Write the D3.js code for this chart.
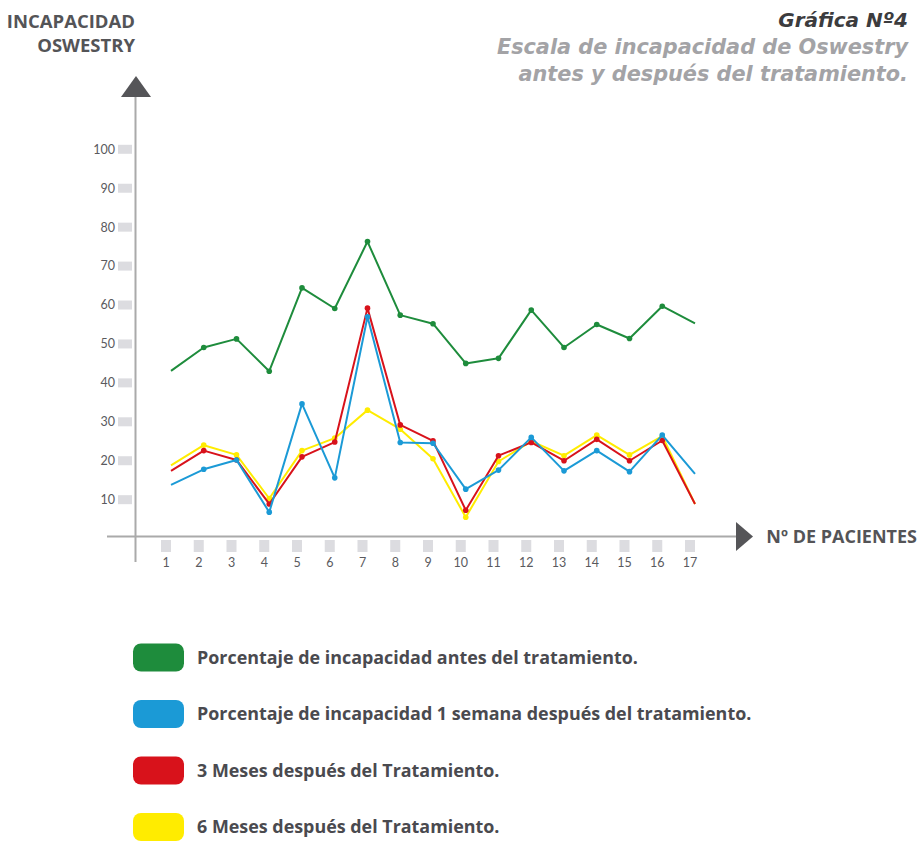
<!DOCTYPE html>
<html>
<head>
<meta charset="utf-8">
<script src="https://cdn.jsdelivr.net/npm/d3@7"></script>
<style>
  body { margin: 0; background: #fff; }
  text { font-family: "Open Sans", Lato, sans-serif; }
</style>
</head>
<body>
<div id="chart"></div>
<script>
var pacientes = [1, 2, 3, 4, 5, 6, 7, 8, 9, 10, 11, 12, 13, 14, 15, 16, 17]
var yTicks = [10, 20, 30, 40, 50, 60, 70, 80, 90, 100]

// valores
var antes = [43.1, 49.1, 51.3, 43.0, 64.4, 59.1, 76.3, 57.4, 55.2, 45.0, 46.3, 58.7, 49.1, 55.0, 51.4, 59.7, 55.3]
var unaSemana = [13.8, 17.8, 20.2, 6.8, 34.6, 15.6, 57.0, 24.7, 24.5, 12.7, 17.6, 26.0, 17.4, 22.6, 17.2, 26.6, 16.6]
var tresMeses = [17.4, 22.6, 20.2, 8.9, 21.0, 24.8, 59.2, 29.2, 25.1, 7.3, 21.3, 24.7, 20.0, 25.5, 20.0, 25.2, 8.9]
var seisMeses = [18.8, 24.0, 21.5, 10.3, 22.6, 25.8, 33.0, 28.1, 20.5, 5.5, 19.8, 25.0, 21.3, 26.6, 21.5, 26.3, 8.9]

var seriesNames = [
  "Porcentaje de incapacidad antes del tratamiento.",
  "Porcentaje de incapacidad 1 semana después del tratamiento.",
  "3 Meses después del Tratamiento.",
  "6 Meses después del Tratamiento."
]
var colors = ["#1e8c3c", "#1b9ad6", "#d8121b", "#ffec00"]

var width = 919, height = 841

var svg = d3.select("#chart")
  .append("svg")
  .attr("width", width)
  .attr("height", height)

var x = d3.scalePoint().domain(pacientes).range([166, 690])
var y = d3.scaleLinear().domain([0, 100]).range([538.6, 149.3])
var dx = 5  // las lineas van un poco a la derecha de los marcadores

var axisGray = "#aaaaaa"
var darkGray = "#555558"

// eje Y
svg.append("line")
  .attr("x1", 135.5).attr("x2", 135.5)
  .attr("y1", 95).attr("y2", 562)
  .attr("stroke", axisGray).attr("stroke-width", 2)

svg.append("path")
  .attr("d", "M136,76 L151,97 L121,97 Z")
  .attr("fill", darkGray)

// eje X
svg.append("line")
  .attr("x1", 107).attr("x2", 738)
  .attr("y1", 536.5).attr("y2", 536.5)
  .attr("stroke", axisGray).attr("stroke-width", 2)

svg.append("path")
  .attr("d", "M736,522 L753,536.5 L736,551 Z")
  .attr("fill", darkGray)

// ticks Y
var yt = svg.selectAll(".ytick")
  .data(yTicks)
  .enter().append("g")
  .attr("class", "ytick")
  .attr("transform", function(d) { return "translate(0," + y(d) + ")" })

yt.append("rect")
  .attr("x", 118).attr("y", -4.5)
  .attr("width", 14).attr("height", 9)
  .attr("fill", "#dcdce0")

yt.append("text")
  .attr("x", 115).attr("dy", "0.35em")
  .attr("text-anchor", "end")
  .style("font-family", "Lato, sans-serif")
  .attr("font-size", 12.5)
  .attr("fill", "#5a5a5e")
  .text(function(d) { return d })

// ticks X
var xt = svg.selectAll(".xtick")
  .data(pacientes)
  .enter().append("g")
  .attr("class", "xtick")
  .attr("transform", function(d) { return "translate(" + x(d) + ",0)" })

xt.append("rect")
  .attr("x", -5).attr("y", 540)
  .attr("width", 10).attr("height", 12)
  .attr("fill", "#dcdce0")

xt.append("text")
  .attr("y", 567)
  .attr("text-anchor", "middle")
  .style("font-family", "Lato, sans-serif")
  .attr("font-size", 12.5)
  .attr("fill", "#5a5a5e")
  .text(function(d) { return d })

// lineas
var series = [antes, unaSemana, tresMeses, seisMeses]

var line = d3.line()
  .x(function(d, i) { return x(pacientes[i]) + dx })
  .y(function(d) { return y(d) })

// se dibuja de atras hacia adelante: amarillo, rojo, azul, verde
var order = [3, 2, 1, 0]
order.forEach(function(s) {
  var g = svg.append("g")
  g.append("path")
    .datum(series[s])
    .attr("d", line)
    .attr("fill", "none")
    .attr("stroke", colors[s])
    .attr("stroke-width", 2)
    .attr("stroke-linejoin", "round")

  g.selectAll("circle")
    .data(series[s].slice(1, -1))
    .enter().append("circle")
    .attr("cx", function(d, i) { return x(pacientes[i + 1]) + dx })
    .attr("cy", function(d) { return y(d) })
    .attr("r", 2.8)
    .attr("fill", colors[s])
})

// titulos de ejes
svg.append("text")
  .attr("x", 135).attr("y", 28)
  .attr("text-anchor", "end")
  .attr("font-size", 18.5).attr("font-weight", "bold")
  .attr("fill", "#545457")
  .text("INCAPACIDAD")

svg.append("text")
  .attr("x", 135).attr("y", 52)
  .attr("text-anchor", "end")
  .attr("font-size", 18.5).attr("font-weight", "bold")
  .attr("fill", "#545457")
  .text("OSWESTRY")

svg.append("text")
  .attr("x", 917).attr("y", 543)
  .attr("text-anchor", "end")
  .attr("font-size", 18).attr("font-weight", "bold")
  .attr("fill", "#545457")
  .text("Nº DE PACIENTES")

// titulo
var titleLines = ["Gráfica Nº4", "Escala de incapacidad de Oswestry", "antes y después del tratamiento."]
svg.selectAll(".title")
  .data(titleLines)
  .enter().append("text")
  .attr("class", "title")
  .attr("x", 908)
  .attr("y", function(d, i) { return 27 + i * 27 })
  .attr("text-anchor", "end")
  .style("font-family", "'DejaVu Sans', sans-serif")
  .style("font-style", "italic")
  .attr("font-weight", "bold")
  .attr("font-size", function(d, i) { return i == 0 ? 20 : 20.8 })
  .attr("fill", function(d, i) { return i == 0 ? "#3c3c3e" : "#a3a3a6" })
  .text(function(d) { return d })

// leyenda
var legend = svg.selectAll(".legend")
  .data(seriesNames)
  .enter().append("g")
  .attr("class", "legend")
  .attr("transform", function(d, i) { return "translate(133," + (643.5 + i * 56.5) + ")" })

legend.append("rect")
  .attr("width", 51).attr("height", 28)
  .attr("rx", 8).attr("ry", 8)
  .attr("fill", function(d, i) { return colors[i] })

legend.append("text")
  .attr("x", 64).attr("y", 20)
  .attr("font-size", 17.9).attr("font-weight", "bold")
  .attr("fill", "#4a4a4f")
  .text(function(d) { return d })
</script>
</body>
</html>
